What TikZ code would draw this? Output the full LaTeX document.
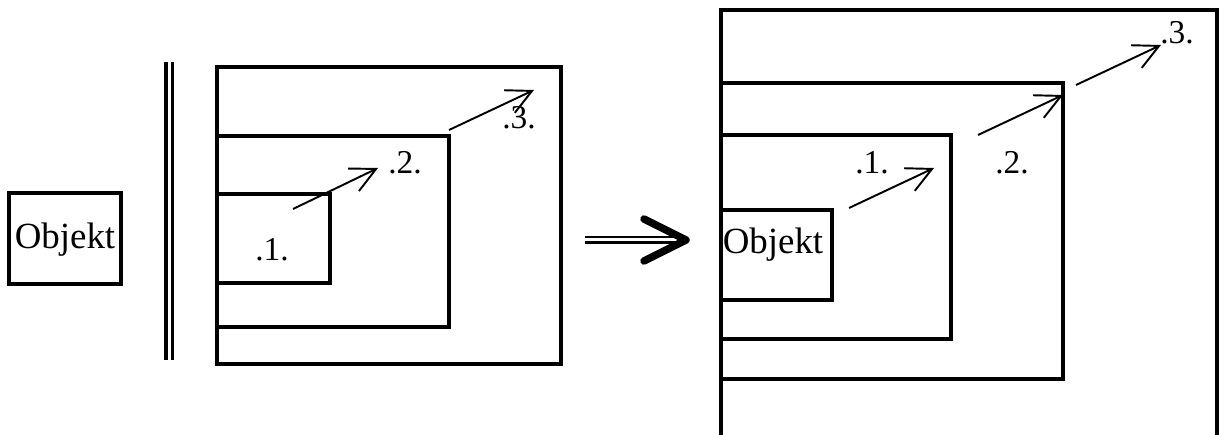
\documentclass[tikz,border=0pt]{standalone}
\usepackage{fontspec}
\setmainfont{Liberation Serif}
\usetikzlibrary{positioning,arrows.meta,fit}
\tikzset{frame/.style={rectangle, draw, line width=2pt, inner sep=0pt}}
\tikzset{objtext/.style={font=\fontsize{21}{25}\selectfont, inner sep=0pt}}
\tikzset{steplabel/.style={font=\fontsize{19}{22}\selectfont, inner sep=0pt}}
\tikzset{steparrow/.style={-{Straight Barb[length=0.5cm, width=0.5cm]}, line width=1.1pt}}
\tikzset{bigshaft/.style={double, line width=0.06cm, double distance=0.06cm}}
\tikzset{bighead/.style={line width=0.15cm, line cap=round, line join=round}}

\begin{document}
\begin{tikzpicture}[x=0.02cm, y=-0.02cm]
  \useasboundingbox (0,0) rectangle (1219,435);
  \clip (0,0) rectangle (1219,435);

  % the object on its own
  \node[frame, fit={(9,193) (121,284)}] (objbox) {};
  \node[objtext] (objname) at (65,240) {Objekt};

  % separator bar
  \coordinate (septop) at (169,62);
  \coordinate (sepbot) at (169,360);
  \draw[double, line width=0.065cm, double distance=0.06cm] (septop) -- (sepbot);

  % nested levels, left
  \node[frame, fit={(217,67) (561,364)}] (threel) {};
  \node[frame, fit={(217,136) (449,327)}] (twol) {};
  \node[frame, fit={(217,194) (330,283)}] (onel) {};
  \node[steplabel] (labonel) at (272,250) {.1.};
  \node[steplabel] (labtwol) at (405,163) {.2.};
  \node[steplabel] (labthreel) at (519,118) {.3.};

  \coordinate (stepastartl) at (293,209);
  \coordinate (stepaendl) at (378,168);
  \coordinate (stepbstartl) at (449,130);
  \coordinate (stepbendl) at (534,90);
  \draw[steparrow] (stepastartl) -- (stepaendl);
  \draw[steparrow] (stepbstartl) -- (stepbendl);

  % big arrow in the middle
  \coordinate (bigtail) at (585,240);
  \coordinate (bigtip) at (686,240);
  \draw[bigshaft] (bigtail) -- (bigtip);
  \draw[bighead] (bigtip) ++(-42,-21) -- (bigtip) -- ++(-42,21);

  % nested levels, right
  \node[frame, fit={(721,10) (1217,470)}] (threer) {};
  \node[frame, fit={(721,83) (1063,379)}] (twor) {};
  \node[frame, fit={(721,135) (951,339)}] (oner) {};
  \node[frame, fit={(721,210) (832,300)}] (objboxr) {};
  \node[objtext] (objnamer) at (773,245) {Objekt};
  \node[steplabel] (laboner) at (872,163) {.1.};
  \node[steplabel] (labtwor) at (1012,163) {.2.};
  \node[steplabel] (labthreer) at (1177,33) {.3.};

  \coordinate (stepastartr) at (849,208);
  \coordinate (stepaendr) at (934,168);
  \coordinate (stepbstartr) at (978,135);
  \coordinate (stepbendr) at (1063,95);
  \coordinate (stepcstartr) at (1076,85);
  \coordinate (stepcendr) at (1161,45);
  \draw[steparrow] (stepastartr) -- (stepaendr);
  \draw[steparrow] (stepbstartr) -- (stepbendr);
  \draw[steparrow] (stepcstartr) -- (stepcendr);
\end{tikzpicture}
\end{document}
